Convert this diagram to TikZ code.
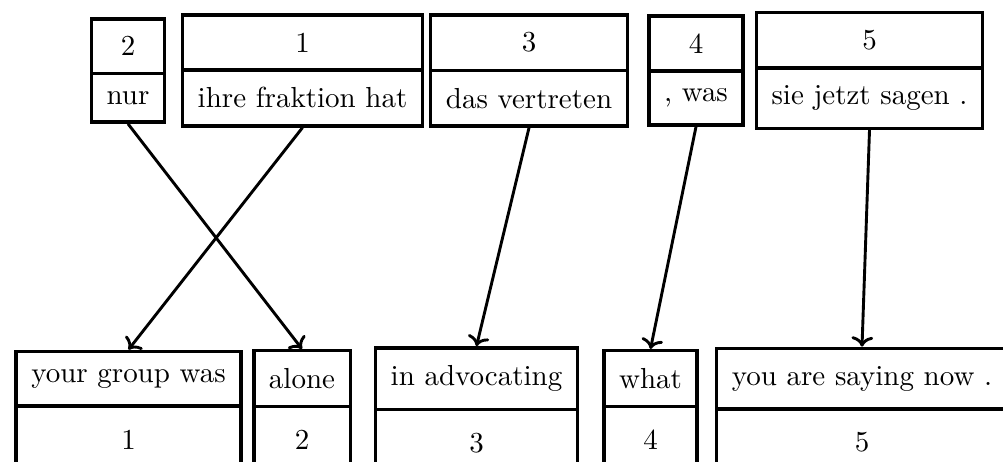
\documentclass[tikz,border=0pt]{standalone}
\usetikzlibrary{shapes.multipart,arrows.meta}
\tikzset{
  wordBox/.style={rectangle split, rectangle split parts=2, draw, fill=white,
    line width=1.2pt, inner xsep=5.25pt, inner ysep=5.5pt},
  alignArrow/.style={-{To[length=3.5pt,width=7.5pt]}, line width=1pt}
}
\newcommand{\numStrut}{\rule[-2.4pt]{0pt}{11.2pt}}

\begin{document}
\begin{tikzpicture}[x=0.345pt, y=0.345pt]
  \useasboundingbox (0,0) rectangle (1003,461);
  % source phrases
  \node [wordBox] (src2) at (128,390.5) {2\nodepart{two}nur};
  \node [wordBox] (src1) at (302.5,390.5) {1\nodepart{two}ihre fraktion hat};
  \node [wordBox] (src3) at (529,390.5) {3\nodepart{two}das vertreten};
  \node [wordBox] (src4) at (696,390.5) {4\nodepart{two}, was};
  \node [wordBox] (src5) at (869.5,390.5) {5\nodepart{two}sie jetzt sagen .};
  % target phrases
  \node [wordBox] (tgt1) at (128.5,48.5) {your group was\nodepart{two}\numStrut 1};
  \node [wordBox] (tgt2) at (302,48.5) {alone\nodepart{two}\numStrut 2};
  \node [wordBox] (tgt3) at (476.5,48.5) {in advocating\nodepart{two}\numStrut 3};
  \node [wordBox] (tgt4) at (650.5,48.5) {what\nodepart{two}\numStrut 4};
  \node [wordBox] (tgt5) at (862,48.5) {you are saying now .\nodepart{two}\numStrut 5};
  % alignment
  \foreach \i in {1,...,5}
    \draw [alignArrow] (src\i.south) -- (tgt\i.north);
\end{tikzpicture}
\end{document}
